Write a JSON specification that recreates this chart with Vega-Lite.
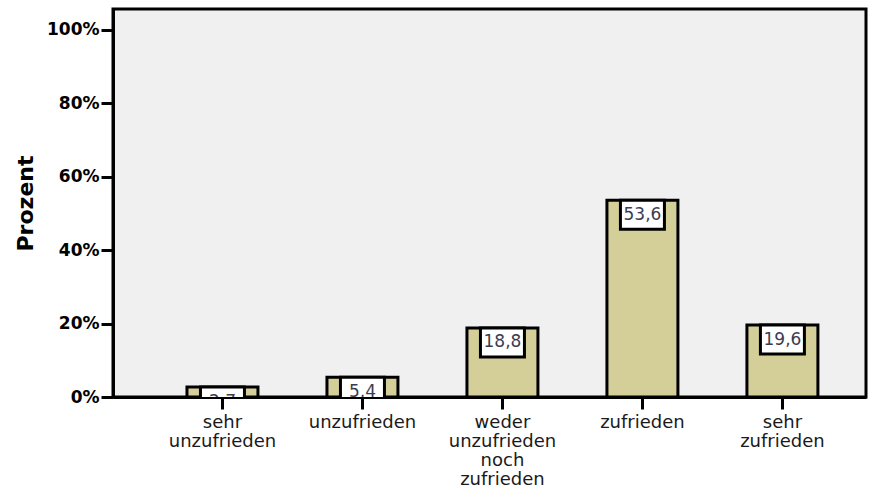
{
  "$schema": "https://vega.github.io/schema/vega-lite/v6.json",
  "width": 753,
  "height": 388,
  "autosize": "none",
  "padding": {"left": 113, "top": 9, "right": 12, "bottom": 93},
  "background": "white",
  "config": {
    "view": {"fill": "#f0f0f0", "stroke": "black", "strokeWidth": 3},
    "axis": {"grid": false, "domainColor": "black", "domainWidth": 3, "tickColor": "black", "tickWidth": 3}
  },
  "data": {
    "values": [
      {"kategorie": "sehr unzufrieden", "prozent": 2.7, "label": "2,7"},
      {"kategorie": "unzufrieden", "prozent": 5.4, "label": "5,4"},
      {"kategorie": "weder unzufrieden noch zufrieden", "prozent": 18.8, "label": "18,8"},
      {"kategorie": "zufrieden", "prozent": 53.6, "label": "53,6"},
      {"kategorie": "sehr zufrieden", "prozent": 19.6, "label": "19,6"}
    ]
  },
  "encoding": {
    "x": {
      "field": "kategorie",
      "type": "nominal",
      "sort": null,
      "scale": {"paddingInner": 0.493, "paddingOuter": 0.436, "align": 0.606},
      "axis": {
        "title": null,
        "labelAngle": 0,
        "labelExpr": "split(datum.label, ' ')",
        "labelFont": "DejaVu Sans",
        "labelFontSize": 18,
        "labelLineHeight": 19,
        "labelColor": "#1a1a1a",
        "labelPadding": 4,
        "tickSize": 12,
        "labelBaseline": "top"
      }
    },
    "y": {
      "field": "prozent",
      "type": "quantitative",
      "scale": {"domain": [0, 105.7], "nice": false},
      "axis": {
        "title": "Prozent",
        "titleFont": "DejaVu Sans",
        "titleFontSize": 22,
        "titleFontWeight": "bold",
        "titleColor": "black",
        "titlePadding": 9,
        "values": [0, 20, 40, 60, 80, 100],
        "labelExpr": "datum.value + '%'",
        "labelFont": "DejaVu Sans",
        "labelFontSize": 17,
        "labelFontWeight": "bold",
        "labelColor": "black",
        "labelPadding": 2,
        "tickSize": 12
      }
    }
  },
  "layer": [
    {
      "mark": {"type": "bar", "fill": "#d4cf99", "stroke": "black", "strokeWidth": 3}
    },
    {
      "mark": {
        "type": "point",
        "shape": "M-1,0 L1,0 L1,1.318 L-1,1.318 Z",
        "size": 1936,
        "filled": true,
        "fill": "white",
        "stroke": "black",
        "strokeWidth": 3,
        "opacity": 1,
        "clip": true
      }
    },
    {
      "mark": {
        "type": "text",
        "font": "DejaVu Sans",
        "fontSize": 17,
        "color": "#3c3c50",
        "baseline": "middle",
        "yOffset": 14.5,
        "clip": true
      },
      "encoding": {"text": {"field": "label"}}
    }
  ]
}
